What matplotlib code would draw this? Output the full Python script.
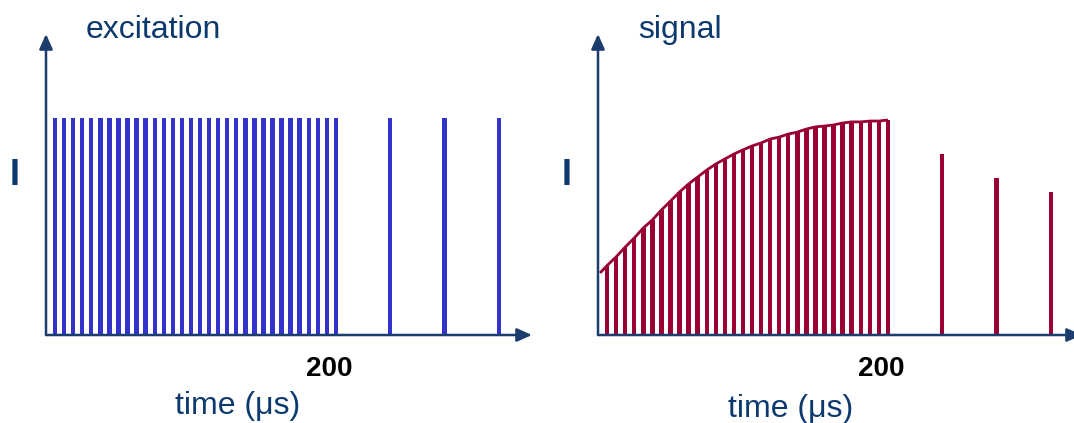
import matplotlib
matplotlib.use('Agg')
import matplotlib.pyplot as plt

# pulse times in microseconds (dense train up to 200, then 3 sparse pulses)
pulse_times = [6.25, 12.5, 18.75, 25, 31.25, 37.5, 43.75, 50, 56.25, 62.5,
               68.75, 75, 81.25, 87.5, 93.75, 100, 106.25, 112.5, 118.75, 125,
               131.25, 137.5, 143.75, 150, 156.25, 162.5, 168.75, 175, 181.25,
               187.5, 193.75, 200, 237.5, 275, 312.5]

excitation = [1.0] * 35

signal = [0.32, 0.36, 0.405, 0.447, 0.493, 0.53, 0.576, 0.617, 0.659, 0.696,
          0.728, 0.76, 0.788, 0.811, 0.834, 0.853, 0.871, 0.885, 0.903, 0.912,
          0.926, 0.935, 0.949, 0.959, 0.963, 0.968, 0.977, 0.982, 0.982, 0.986,
          0.986, 0.991, 0.834, 0.724, 0.659]

# envelope drawn over the dense part of the signal
curve_start_t = 1.4
curve_start_v = 0.286

tick_value = 200
tick_label = "200"

W, H = 1074, 423
NAVY = '#0d3a6e'
AXIS = '#1a3d6d'
BLUE = '#3333cc'
RED = '#990033'
NARROW = ['Liberation Sans Narrow', 'Liberation Sans', 'DejaVu Sans']
BOLD = ['Liberation Sans', 'DejaVu Sans']

px_per_us = 1.4496
px_per_unit = 217.0

fig = plt.figure(figsize=(W / 100, H / 100), dpi=100)


def make_axes(x0, x_tip, y0=335, y_tip=34):
    ax = fig.add_axes([x0 / W, (H - y0) / H, (x_tip - x0) / W, (y0 - y_tip) / H])
    xmax = (x_tip - x0) / px_per_us
    ymax = (y0 - y_tip) / px_per_unit
    ax.set_xlim(0, xmax)
    ax.set_ylim(0, ymax)
    ax.axis('off')
    arrow = dict(arrowstyle='-|>,head_length=0.9,head_width=0.4', color=AXIS,
                 lw=1.8, shrinkA=0, shrinkB=0)
    ax.annotate('', xy=(xmax, 0), xytext=(0, 0), arrowprops=arrow,
                annotation_clip=False)
    ax.annotate('', xy=(0, ymax), xytext=(0, 0), arrowprops=arrow,
                annotation_clip=False)
    ax.annotate(tick_label, xy=(tick_value, 0), xytext=(-5, -29.5),
                textcoords='offset points', ha='center', va='baseline',
                fontsize=20, fontweight='bold', family=BOLD, color='black')
    return ax


bar_w = 4.4 / px_per_us

# left panel: excitation
ax1 = make_axes(46, 532)
ax1.bar(pulse_times, excitation, width=bar_w, color=BLUE, zorder=1)

# right panel: signal
ax2 = make_axes(598, 1082)
ax2.bar(pulse_times, signal, width=bar_w, color=RED, zorder=1)
dense_t = [t for t in pulse_times if t <= tick_value]
dense_v = signal[:len(dense_t)]
ax2.plot([curve_start_t] + dense_t, [curve_start_v] + dense_v,
         color=RED, lw=2, zorder=2, solid_capstyle='butt')


def ftext(x, y, s, **kw):
    fig.text(x / W, (H - y) / H, s, va='baseline', **kw)


ftext(86, 38, 'excitation', fontsize=23, family=NARROW, color=NAVY)
ftext(638, 38, 'signal', fontsize=23, family=NARROW, color=NAVY)
ftext(175, 414, 'time (μs)', fontsize=23, family=NARROW, color=NAVY)
ftext(728, 417, 'time (μs)', fontsize=23, family=NARROW, color=NAVY)
ftext(10, 185, 'I', fontsize=26, fontweight='bold', family=BOLD, color=NAVY)
ftext(562, 185, 'I', fontsize=26, fontweight='bold', family=BOLD, color=NAVY)

fig.savefig('out.png', dpi=100)
